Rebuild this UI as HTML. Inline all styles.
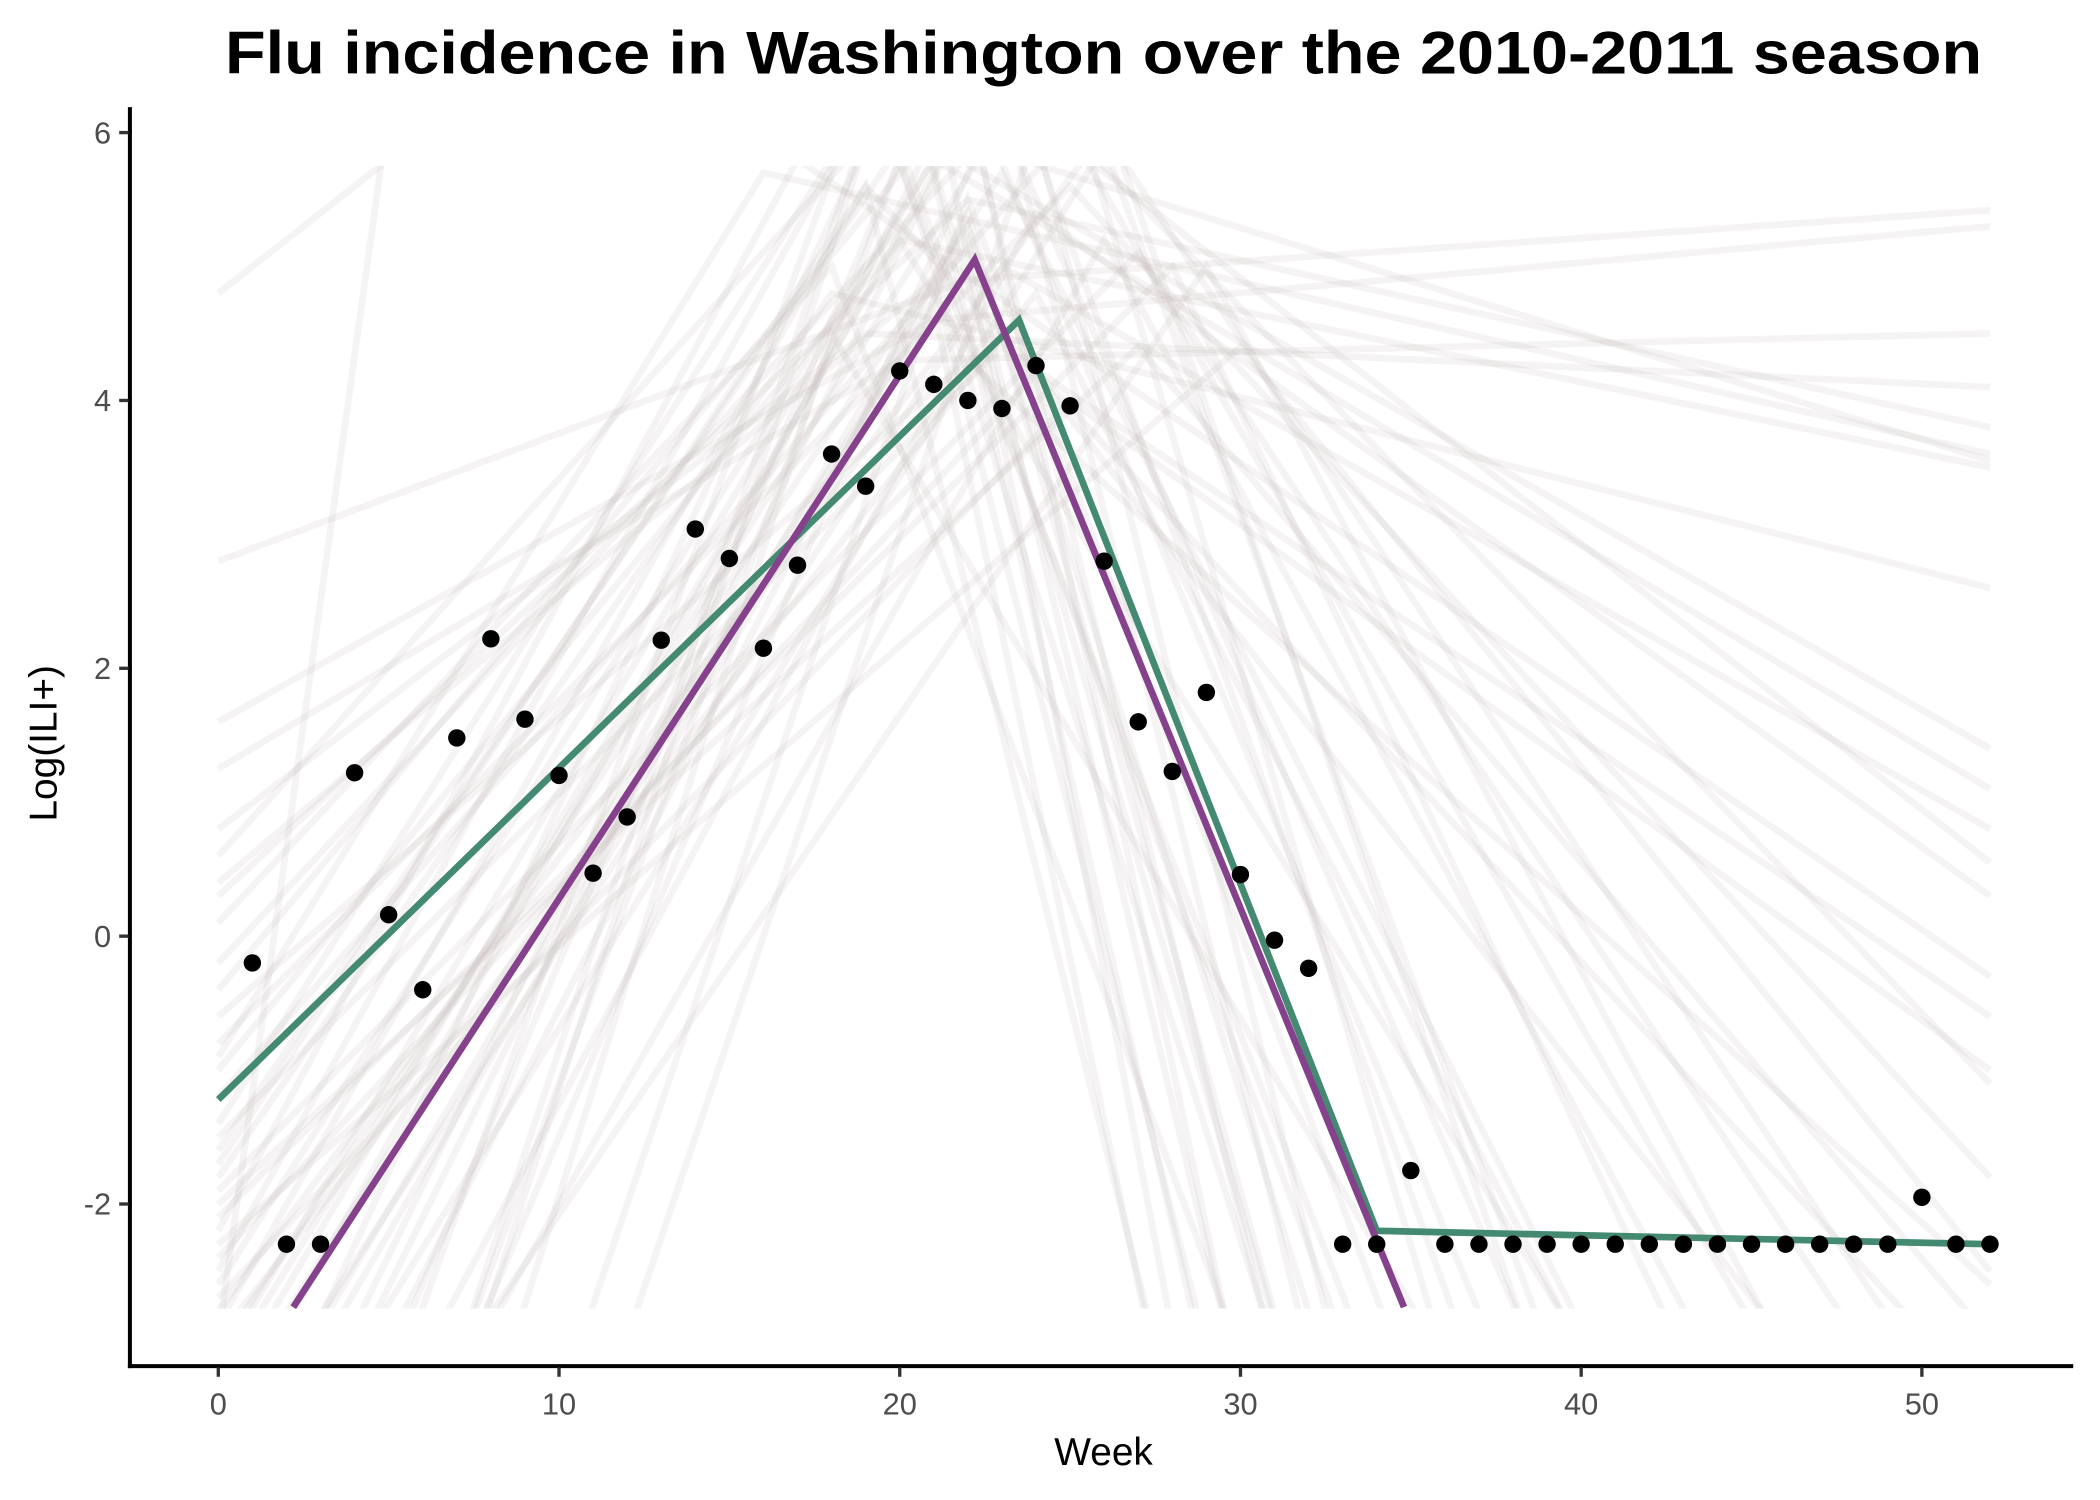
<!DOCTYPE html>
<html><head><meta charset="utf-8"><style>
html,body{margin:0;padding:0;background:#fff;overflow:hidden;width:2100px;height:1500px;}
svg{display:block;}
text{font-family:"Liberation Sans",sans-serif;}
</style></head><body>
<svg id="chart" width="2100" height="1500" viewBox="0 0 1568 1120" xmlns="http://www.w3.org/2000/svg">
<defs><clipPath id="clip"><rect x="97" y="124" width="1451" height="853"/></clipPath></defs>
<text x="824" y="55" text-anchor="middle" font-size="45" font-weight="bold" textLength="1312" lengthAdjust="spacingAndGlyphs">Flu incidence in Washington over the 2010-2011 season</text>
<g id="samples" clip-path="url(#clip)"></g>
<g id="fits"></g>
<g id="points"></g>
<g id="axes"></g>
<text x="824" y="1094" text-anchor="middle" font-size="29">Week</text>
<text transform="translate(42,555) rotate(-90)" text-anchor="middle" font-size="29">Log(ILI+)</text>
</svg>
<script>
const weeks = [1,2,3,4,5,6,7,8,9,10,11,12,13,14,15,16,17,18,19,20,21,22,23,24,25,26,27,28,29,30,31,32,33,34,35,36,37,38,39,40,41,42,43,44,45,46,47,48,49,50,51,52];
const values = [-0.2,-2.3,-2.3,1.22,0.16,-0.4,1.48,2.22,1.62,1.2,0.47,0.89,2.21,3.04,2.82,2.15,2.77,3.6,3.36,4.22,4.12,4.0,3.94,4.26,3.96,2.8,1.6,1.23,1.82,0.46,-0.03,-0.24,-2.3,-2.3,-1.75,-2.3,-2.3,-2.3,-2.3,-2.3,-2.3,-2.3,-2.3,-2.3,-2.3,-2.3,-2.3,-2.3,-2.3,-1.95,-2.3,-2.3];
const greenX = [0,23.5,34.0,52];
const greenY = [-1.22,4.6,-2.2,-2.3];
const purpleX = [2.2,22.2,34.8];
const purpleY = [-2.77,5.05,-2.77];
// background samples: start value (week 0), peak week, peak value, value at week 52
const sStart = [4.8,-3,2.8,1.6,1.25,0.8,0.3,-0.4,-1.0,-1.8,-2.5,-3.2,-4,-5,-6,-2.2,-1.5,0.6,-0.8,-2.8,-3.5,-4.5,-7,-8,-3,-1.2,0.1,-2.0,-2.6,-9,-10,-3.8,-5.5,-6.5,-1.6,-2.4,0.4,-0.2,-3.3,-4.2,-2.9,-1.9,-5.2,-7.5,-3.6,-2.1,-1.4,-0.6,-4.8,-6.2,-2.7,-3.1,-8.5,-11,-12,-0.9,-1.7,-2.3,-4.4,-5.8];
const sPeak = [6,6,22,21,20,19,22,21,20,18,19,21,23,22,24,17,23,22,25,26,20,21,19,20,24,25,18,27,22,21,18,23,22,26,20,24,21,23,25,22,19,27,24,23,21,28,20,22,26,21,25,23,20,22,24,16,19,30,22,29];
const sPeakV = [6,8,4.9,4.6,4.3,4.5,5.5,6,5.2,4.8,6.2,5.8,5,6.5,5.4,5.8,4.4,6.8,5.6,6,5.2,7,6.4,5.8,4.8,6,5,4.4,6.2,7.5,4.5,6.6,5.4,5.2,5.9,4.2,4.9,6.1,6.9,5.3,5.6,5.1,7.2,6.3,4.7,5,6.6,4.3,5.9,6.4,4,5.7,6.8,5.5,6,5.7,5.6,4.4,5.2,5];
const sEnd = [6,6,5.42,5.3,4.5,4.1,3.8,3.55,3.5,2.6,1.4,1.1,0.8,0.55,0.3,-0.3,-0.6,-1.1,-1.8,-4,-8,-12,-15,-20,-9,-6,-18,-3,-25,-30,-10,-14,-22,-7,-16,-5,-26,-11,-13,-19,-28,-4.5,-17,-24,-33,-8,-21,-2.6,-12,-35,-1,-9,-29,-15,-23,3.6,-3.5,-2.5,-27,-6];

const X = w => 163 + w * 25.44;
const Y = v => 699 - v * 100;
const NS = 'http://www.w3.org/2000/svg';
function mk(tag, attrs, parent){const e=document.createElementNS(NS,tag);for(const k in attrs)e.setAttribute(k,attrs[k]);parent.appendChild(e);return e;}

const sg = document.getElementById('samples');
for (let i=0;i<sStart.length;i++){
  const pts = [[0,sStart[i]],[sPeak[i],sPeakV[i]],[52,sEnd[i]]].map(p=>X(p[0])+','+Y(p[1])).join(' ');
  const el = mk('polyline',{points:pts,fill:'none',stroke:'rgb(200,188,188)','stroke-opacity':'0.18','stroke-width':'5'},sg);
  
  
}
const fg = document.getElementById('fits');
const gl = mk('polyline',{points:greenX.map((x,i)=>X(x)+','+Y(greenY[i])).join(' '),fill:'none',stroke:'#448a71','stroke-width':'5'},fg);


const pl = mk('polyline',{points:purpleX.map((x,i)=>X(x)+','+Y(purpleY[i])).join(' '),fill:'none',stroke:'#85418c','stroke-width':'5'},fg);



const pg = document.getElementById('points');
weeks.forEach((w,i)=>{
  const c = mk('circle',{cx:X(w),cy:Y(values[i]),r:6.5,fill:'#000'},pg);
  
  
});

const ag = document.getElementById('axes');
const ya = mk('line',{x1:97,y1:80,x2:97,y2:1021.5,stroke:'#000','stroke-width':'3'},ag);


const xa = mk('line',{x1:95.5,y1:1020,x2:1548,y2:1020,stroke:'#000','stroke-width':'3'},ag);


const xTicks = [0,10,20,30,40,50];
const yTicks = [-2,0,2,4,6];
xTicks.forEach(t=>{
  mk('line',{x1:X(t),y1:1021,x2:X(t),y2:1028,stroke:'#333','stroke-width':'2.5'},ag);
  const tx = mk('text',{x:X(t),y:1056,'text-anchor':'middle','font-size':'23',fill:'#4d4d4d'},ag);
  tx.textContent = t;
  
  
});
yTicks.forEach(t=>{
  mk('line',{x1:89,y1:Y(t),x2:96,y2:Y(t),stroke:'#333','stroke-width':'2.5'},ag);
  const tx = mk('text',{x:83,y:Y(t)+8,'text-anchor':'end','font-size':'23',fill:'#4d4d4d'},ag);
  tx.textContent = t;
  
  
});
</script>
</body></html>
